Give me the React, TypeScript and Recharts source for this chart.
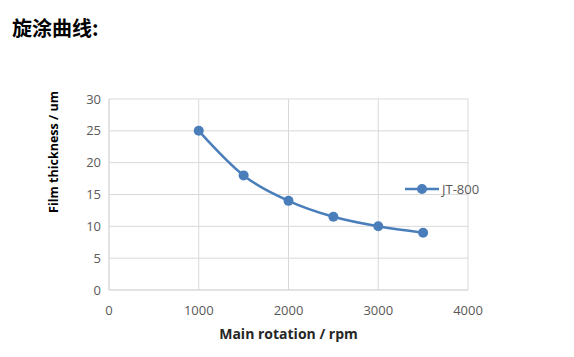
import React from "react";
import { LineChart, Line, XAxis, YAxis, CartesianGrid } from "recharts";

// spin-coating curve: film thickness vs main rotation speed
const rpm = [1000, 1500, 2000, 2500, 3000, 3500];
const thickness = [25, 18, 14, 11.5, 10, 9];
const xTicks = [0, 1000, 2000, 3000, 4000];
const yTicks = [0, 5, 10, 15, 20, 25, 30];
const seriesName = "JT-800";

const blue = "#4a7ebb";
const grid = "#d9d9d9";
const tickFont = { fill: "#595959", fontSize: 13, fontFamily: "'Open Sans', sans-serif" };

const data = rpm.map((r, i) => ({ rpm: r, value: thickness[i] }));

export default function App() {
  return (
    <div style={{ position: "absolute", left: 0, top: 0, width: 574, height: 357, background: "#fff" }}>
      <div
        style={{
          position: "absolute",
          left: 12,
          top: 16,
          fontSize: 20,
          fontWeight: 700,
          color: "#000",
          fontFamily: "'Noto Sans CJK SC', sans-serif",
          lineHeight: "24px",
        }}
      >
        旋涂曲线:
      </div>
      <div
        style={{
          position: "absolute",
          left: 53,
          top: 152,
          transform: "translate(-50%, -50%) rotate(-90deg)",
          whiteSpace: "nowrap",
          fontSize: 12.5,
          fontWeight: 700,
          color: "#000",
          fontFamily: "'Open Sans', sans-serif",
        }}
      >
        Film thickness / um
      </div>
      <LineChart
        width={574}
        height={357}
        data={data}
        margin={{ top: 99, right: 106, bottom: 0, left: 69 }}
        style={{ position: "absolute", left: 0, top: 0 }}
      >
        <CartesianGrid stroke={grid} strokeWidth={1} />
        <XAxis
          dataKey="rpm"
          type="number"
          domain={[0, 4000]}
          ticks={xTicks}
          tick={tickFont}
          tickLine={false}
          axisLine={{ stroke: grid }}
          tickMargin={10}
          height={67}
          label={{
            value: "Main rotation / rpm",
            position: "insideBottom",
            offset: 18,
            style: { fill: "#262626", fontSize: 14, fontWeight: 700, fontFamily: "'Open Sans', sans-serif" },
          }}
        />
        <YAxis
          type="number"
          domain={[0, 30]}
          ticks={yTicks}
          tick={tickFont}
          tickLine={false}
          axisLine={{ stroke: grid }}
          width={40}
        />
        <Line
          type="monotone"
          dataKey="value"
          name={seriesName}
          stroke={blue}
          strokeWidth={2.5}
          dot={{ r: 5, fill: blue, stroke: blue, strokeWidth: 0 }}
          isAnimationActive={false}
        />
      </LineChart>
      <div
        style={{
          position: "absolute",
          left: 404,
          top: 180,
          display: "flex",
          alignItems: "center",
          fontFamily: "'Open Sans', sans-serif",
          fontSize: 13,
          color: "#595959",
        }}
      >
        <svg width={36} height={16} style={{ marginRight: 2 }}>
          <line x1={1} y1={8} x2={35} y2={8} stroke={blue} strokeWidth={2.5} />
          <circle cx={18} cy={8} r={5} fill={blue} />
        </svg>
        <span>{seriesName}</span>
      </div>
    </div>
  );
}
